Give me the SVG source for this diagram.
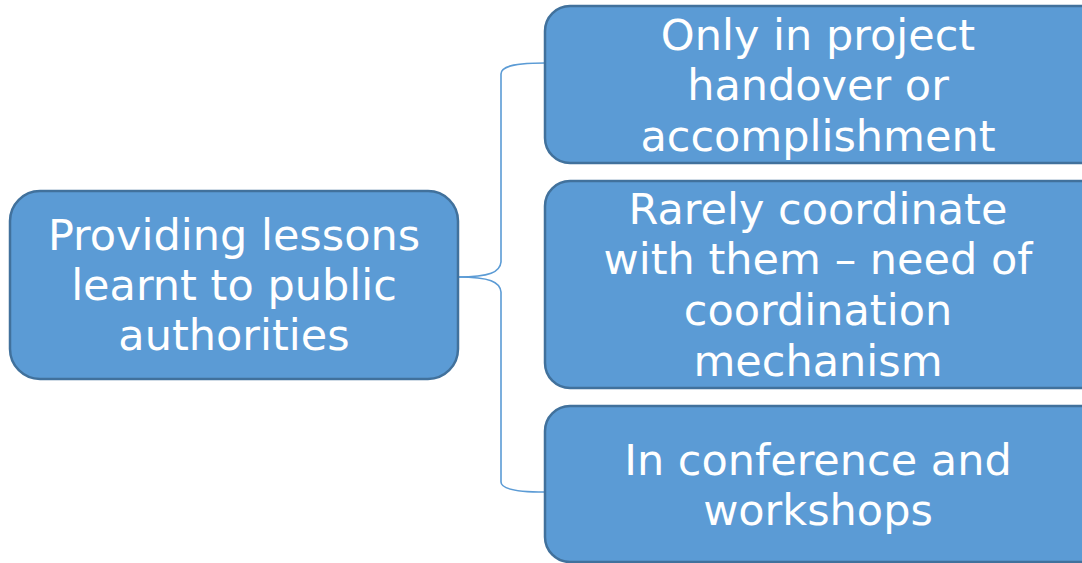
<svg xmlns="http://www.w3.org/2000/svg" width="1082" height="563" viewBox="0 0 1082 563">
<style>
.n{fill:#5b9bd5;stroke:#41719c;stroke-width:2.5}
.t{fill:#fff;font-family:"DejaVu Sans",sans-serif;font-size:43px;text-anchor:middle}
.c{fill:none;stroke:#5b9bd5;stroke-width:1.6}
</style>
<rect width="1082" height="563" fill="#fff"/>
<g id="connectors">
<path class="c" d="M458,277 C490,277 500,272 501,262 L501,74 C501,65 520,63 545,63"/>
<path class="c" d="M458,277 C490,277 500,282 501,292 L501,482 C501,490 520,492 545,492"/>
</g>
<g id="root">
<rect class="n" x="10" y="191" width="448" height="188" rx="30"/>
<text class="t" x="234" y="250">Providing lessons</text>
<text class="t" x="234" y="300">learnt to public</text>
<text class="t" x="234" y="350">authorities</text>
</g>
<g id="n1">
<rect class="n" x="545" y="6" width="560" height="157" rx="25"/>
<text class="t" x="818" y="50">Only in project</text>
<text class="t" x="818" y="100">handover or</text>
<text class="t" x="818" y="151">accomplishment</text>
</g>
<g id="n2">
<rect class="n" x="545" y="181" width="560" height="207" rx="25"/>
<text class="t" x="818" y="224">Rarely coordinate</text>
<text class="t" x="818" y="274">with them – need of</text>
<text class="t" x="818" y="325">coordination</text>
<text class="t" x="818" y="376">mechanism</text>
</g>
<g id="n3">
<rect class="n" x="545" y="406" width="560" height="156" rx="25"/>
<text class="t" x="818" y="475">In conference and</text>
<text class="t" x="818" y="525">workshops</text>
</g>
</svg>
